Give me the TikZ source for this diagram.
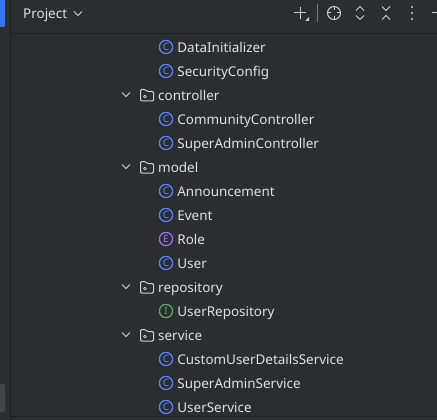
\documentclass[tikz,border=0pt]{standalone}
\usepackage{fontspec}
\setmainfont{Noto Sans}
\usepackage{tikz}
\usetikzlibrary{positioning}

\definecolor{panelbg}{HTML}{2B2D30}
\definecolor{panelline}{HTML}{1E1F22}
\definecolor{rowtext}{HTML}{DFE1E5}
\definecolor{icongray}{HTML}{CED0D6}
\definecolor{classblue}{HTML}{548AF7}
\definecolor{enumpurple}{HTML}{A571E6}
\definecolor{ifacegreen}{HTML}{5FAD65}
\definecolor{activeblue}{HTML}{3574F0}
\definecolor{stripegray}{HTML}{43454A}

\begin{document}
\begin{tikzpicture}[
    x=1pt, y=-1pt,
    node distance=4pt,
    rowlabel/.style={inner sep=0pt, text=rowtext, font=\fontsize{13.45}{15}\selectfont, text height=12.5pt, text depth=1.5pt},
    classicon/.style={circle, draw=classblue, line width=1.2pt, minimum size=13.2pt, inner sep=0pt, text=classblue, font=\fontsize{10}{10}\selectfont\bfseries},
    enumicon/.style={classicon, draw=enumpurple, text=enumpurple},
    ifaceicon/.style={classicon, draw=ifacegreen, text=ifacegreen},
    chevron/.style={draw=icongray, line width=0.9pt},
    toolicon/.style={draw=icongray, line width=1pt},
    folderglyph/.pic={
        \draw[icongray, line width=1pt, rounded corners=1.2pt] (-6.5,-5.5) -- (-1.5,-5.5) -- (0,-3.5) -- (6.5,-3.5) -- (6.5,6) -- (-6.5,6) -- cycle;
        \draw[icongray, line width=0.7pt] (-2,1.5) circle (1.4);
    },
    foldchevron/.pic={
        \draw[chevron] (-4,-2) -- (0,2) -- (4,-2);
    }
]

% Panel
\fill[panelbg] (0,0) rectangle (437,420);
\useasboundingbox (0,0) rectangle (437,420);
\fill[activeblue, rounded corners=2pt] (-5,-3) rectangle (5,27);
\fill[stripegray, rounded corners=2pt] (-5,384) rectangle (5,412);
\draw[panelline] (10.5,0) -- (10.5,420);
\draw[panelline] (10.5,33.5) -- (437,33.5);
\draw[panelline] (10.5,416.5) -- (437,416.5);

% Header
\node[rowlabel, anchor=west] (project) at (23,13.5) {Project};
\pic at (78,13.5) {foldchevron};
\draw[toolicon] (294,13) -- (306,13) (300,7) -- (300,19);
\fill[icongray] (309,17) -- (309,21) -- (305,21) -- cycle;
\draw[panelline!50!icongray] (317.5,4) -- (317.5,22);
\draw[toolicon] (334,13) circle (6.5);
\draw[toolicon] (334,6) -- (334,10) (334,16) -- (334,20) (327,13) -- (331,13) (337,13) -- (341,13);
\draw[toolicon] (356,10.5) -- (360,6.5) -- (364,10.5) (356,15.5) -- (360,19.5) -- (364,15.5);
\draw[toolicon] (382,6.5) -- (386,10.5) -- (390,6.5) (382,19.5) -- (386,15.5) -- (390,19.5);
\fill[icongray] (412,7) circle (1.2) (412,13) circle (1.2) (412,19) circle (1.2);
\draw[toolicon] (432,13) -- (437,13);

% Rows
\node[classicon] (initicon) at (166,47) {C};
\node[rowlabel, right=of initicon] (initlabel) {DataInitializer};
\node[classicon] (secicon) at (166,71) {C};
\node[rowlabel, right=of secicon] (seclabel) {SecurityConfig};

\pic at (126,94.5) {foldchevron};
\pic at (147,95) {folderglyph};
\node[rowlabel, anchor=west] (controller) at (158,95) {controller};
\node[classicon] (commicon) at (166,119) {C};
\node[rowlabel, right=of commicon] (commlabel) {CommunityController};
\node[classicon] (adminicon) at (166,143) {C};
\node[rowlabel, right=of adminicon] (adminlabel) {SuperAdminController};

\pic at (126,166.5) {foldchevron};
\pic at (147,167) {folderglyph};
\node[rowlabel, anchor=west] (model) at (158,167) {model};
\node[classicon] (annicon) at (166,191) {C};
\node[rowlabel, right=of annicon] (annlabel) {Announcement};
\node[classicon] (eventicon) at (166,215) {C};
\node[rowlabel, right=of eventicon] (eventlabel) {Event};
\node[enumicon] (roleicon) at (166,239) {E};
\node[rowlabel, right=of roleicon] (rolelabel) {Role};
\node[classicon] (usericon) at (166,263) {C};
\node[rowlabel, right=of usericon] (userlabel) {User};

\pic at (126,286.5) {foldchevron};
\pic at (147,287) {folderglyph};
\node[rowlabel, anchor=west] (repository) at (158,287) {repository};
\node[ifaceicon] (repoicon) at (166,311) {I};
\node[rowlabel, right=of repoicon] (repolabel) {UserRepository};

\pic at (126,334.5) {foldchevron};
\pic at (147,335) {folderglyph};
\node[rowlabel, anchor=west] (service) at (158,335) {service};
\node[classicon] (detailsicon) at (166,359) {C};
\node[rowlabel, right=of detailsicon] (detailslabel) {CustomUserDetailsService};
\node[classicon] (adminsvcicon) at (166,383) {C};
\node[rowlabel, right=of adminsvcicon] (adminsvclabel) {SuperAdminService};
\node[classicon] (usersvcicon) at (166,407) {C};
\node[rowlabel, right=of usersvcicon] (usersvclabel) {UserService};

\end{tikzpicture}
\end{document}
